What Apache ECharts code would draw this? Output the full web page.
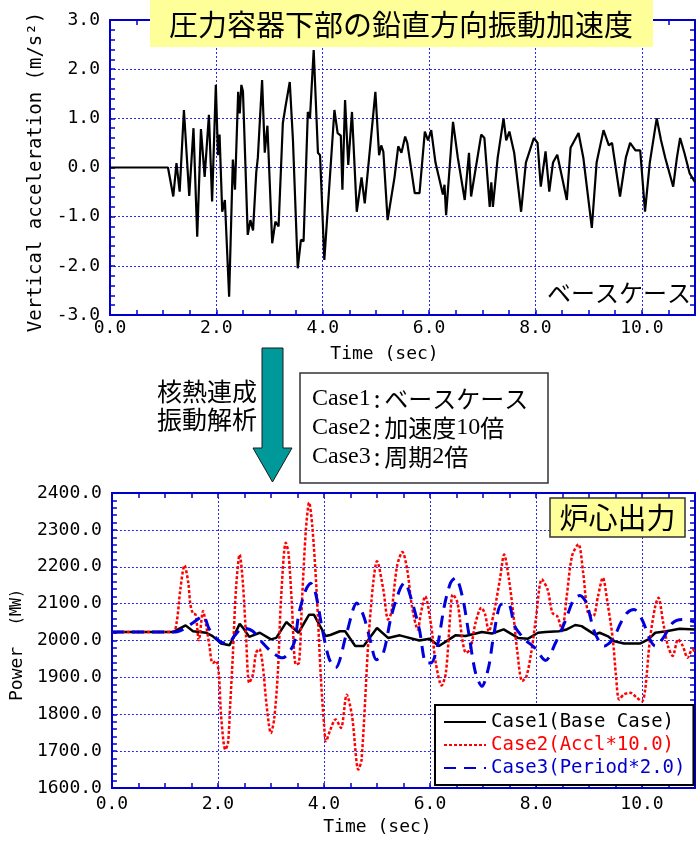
<!DOCTYPE html>
<html><head><meta charset="utf-8">
<script src="https://cdn.jsdelivr.net/npm/echarts@6/dist/echarts.min.js"></script>
<style>html,body{margin:0;padding:0;background:#fff}#c{width:698px;height:845px}</style>
</head><body><div id="c"></div>
<script>
// ---- data ----
const accTime = [0,1.09,1.19,1.25,1.31,1.39,1.49,1.57,1.64,1.71,
  1.78,1.86,1.92,1.99,2.03,2.06,2.11,2.16,2.24,2.31,
  2.35,2.41,2.44,2.47,2.50,2.59,2.64,2.69,2.75,2.78,
  2.86,2.91,2.96,3.05,3.11,3.17,3.25,3.30,3.38,3.44,
  3.53,3.59,3.64,3.72,3.76,3.83,3.91,3.95,4.03,4.22,
  4.28,4.34,4.37,4.42,4.48,4.55,4.64,4.73,4.79,4.89,
  4.99,5.06,5.10,5.14,5.22,5.35,5.42,5.48,5.55,5.59,
  5.73,5.82,5.92,5.98,6.04,6.12,6.26,6.29,6.32,6.45,
  6.54,6.67,6.75,6.79,6.98,7.04,7.14,7.17,7.20,7.29,
  7.40,7.45,7.51,7.60,7.73,7.82,7.97,8.04,8.10,8.19,
  8.26,8.33,8.41,8.50,8.59,8.66,8.81,8.90,9.06,9.15,
  9.28,9.38,9.44,9.59,9.70,9.78,9.88,9.97,10.06,10.15,10.28,
  10.36,10.44,10.59,10.66,10.72,10.80,10.90,11.00];
const accValue = [0,0,-0.59,0.09,-0.49,1.17,-0.58,0.80,-1.41,0.78,
  -0.19,1.07,-0.69,1.68,0.25,0.67,-0.90,-0.66,-2.63,0.16,
  -0.45,1.54,1.10,1.68,1.55,-1.37,-1.07,-1.28,-0.10,0.20,
  1.78,0.30,0.85,-1.54,-1.10,-1.20,0.90,1.24,1.74,0.56,
  -2.05,-1.47,-1.50,1.13,1.00,2.39,0.30,0.25,-1.88,1.17,
  0.70,0.65,-0.45,1.37,0.05,1.13,-0.90,-0.20,-0.73,0.40,
  1.54,0.25,0.45,0.32,-1.07,-0.20,0.43,0.30,0.63,0.50,
  -0.52,-0.52,0.73,0.55,0.76,0.10,-0.55,-0.35,-0.97,0.93,
  0.20,-0.66,0.30,-0.59,0.67,0.60,-0.80,-0.30,-0.80,0.20,
  1.00,0.55,0.73,0.30,-0.90,0.10,0.60,0.50,-0.39,0.33,
  -0.49,0.10,0.26,-0.20,-0.66,0.40,0.70,0.20,-1.23,0.10,
  0.76,0.45,0.50,-0.59,0.20,0.50,0.35,0.35,-0.90,0.10,1.00,
  0.56,0.20,-0.39,0.20,0.60,0.30,-0.12,-0.30];

const case1Time = [0,1.15,1.39,1.53,1.78,1.90,2.06,2.22,2.41,2.47,
  2.59,2.79,3.00,3.10,3.29,3.52,3.72,3.81,4.03,4.12,
  4.30,4.40,4.59,4.75,5.00,5.21,5.43,5.80,5.99,6.17,
  6.48,6.67,6.98,7.17,7.39,7.66,7.85,8.04,8.18,8.43,
  8.58,8.74,8.86,9.11,9.20,9.35,9.48,9.66,9.97,10.12,
  10.25,10.46,10.71,11.00];
const case1Power = [2023,2023,2041,2025,2021,2012,1992,1987,2045,2035,
  2010,2021,2003,2007,2050,2021,2070,2070,2012,2015,
  2025,2025,1985,1985,2034,2007,2014,2000,2005,1985,
  2014,2012,2023,2019,2030,2007,2005,2021,2023,2025,
  2030,2042,2039,2016,2021,2012,1998,1992,1992,2003,
  2021,2025,2032,2030];

const case2Time = [0,1.15,1.22,1.29,1.37,1.44,1.48,1.53,1.58,1.64,
  1.72,1.77,1.84,1.90,1.97,2.02,2.06,2.14,2.19,2.23,
  2.28,2.34,2.41,2.47,2.53,2.59,2.66,2.72,2.78,2.84,
  2.92,3.00,3.06,3.13,3.19,3.28,3.33,3.39,3.47,3.53,
  3.59,3.66,3.72,3.78,3.86,3.94,4.00,4.04,4.12,4.22,
  4.32,4.43,4.53,4.65,4.71,4.84,4.93,5.00,5.12,5.21,
  5.27,5.38,5.48,5.57,5.66,5.77,5.83,5.91,6.02,6.11,
  6.22,6.30,6.39,6.43,6.52,6.61,6.68,6.76,6.86,6.97,
  7.04,7.11,7.20,7.32,7.40,7.49,7.57,7.65,7.74,7.82,
  7.91,8.00,8.11,8.22,8.31,8.40,8.49,8.58,8.68,8.80,
  8.89,8.98,9.08,9.17,9.26,9.35,9.45,9.51,9.57,9.66,
  9.78,9.91,10.00,10.06,10.15,10.25,10.31,10.40,10.49,10.58,
  10.68,10.77,10.86,10.95,11.00];
const case2Power = [2023,2023,2048,2138,2204,2157,2098,2073,2070,2001,
  2080,2048,1985,1939,1944,1903,1795,1704,1722,1822,
  1957,2138,2233,2157,2012,1885,1908,1967,1977,1939,
  1822,1749,1786,1912,2111,2265,2238,2111,1935,1939,
  2120,2301,2374,2310,2138,1903,1776,1727,1758,1786,
  1763,1853,1795,1650,1677,2003,2157,2215,2138,2057,
  2075,2202,2240,2193,2093,2030,2075,2120,2043,1939,
  1878,1912,2084,2125,2102,2003,1967,1976,2048,2089,
  2071,2025,2071,2166,2233,2166,2075,1967,1890,1903,
  1967,2060,2166,2138,2075,2066,2030,2120,2229,2261,
  2184,2075,2066,2120,2170,2102,2003,1903,1840,1854,
  1858,1844,1835,1867,2003,2093,2116,2048,1985,1958,
  2003,1985,1953,1976,1970];

const case3Time = [0,1.20,1.34,1.53,1.72,1.84,2.03,2.19,2.31,2.47,
  2.66,2.84,3.03,3.22,3.31,3.44,3.53,3.66,3.75,3.84,
  3.97,4.10,4.22,4.43,4.62,4.75,4.87,4.99,5.12,5.27,
  5.43,5.52,5.65,5.80,5.93,6.02,6.14,6.27,6.39,6.48,
  6.61,6.73,6.86,6.98,7.11,7.20,7.35,7.48,7.60,7.79,
  7.98,8.18,8.37,8.55,8.71,8.83,8.95,9.11,9.29,9.45,
  9.60,9.72,9.85,10.00,10.15,10.25,10.40,10.58,10.77,10.95,11.00];
const case3Power = [2023,2023,2030,2048,2066,2030,1998,1992,2012,2034,
  2025,1994,1967,1953,1962,1994,2075,2138,2155,2129,
  2030,1950,1926,2021,2102,2066,2003,1948,1966,2066,
  2138,2157,2111,2030,1939,1939,1985,2093,2157,2170,
  2120,2021,1912,1876,1930,2012,2098,2098,2039,2003,
  1980,1946,1994,2052,2111,2122,2102,2021,1985,2003,
  2048,2075,2084,2057,2003,1985,2007,2048,2057,2052,2050];

const xLabelValues = [0, 2, 4, 6, 8, 10];
const seriesNames = ['Case1(Base Case)', 'Case2(Accl*10.0)', 'Case3(Period*2.0)'];

// ---- styling ----
const MONO = "DejaVu Sans Mono";
const JP = "Noto Sans CJK JP";
const SERIF = "Liberation Serif";
const AXIS = '#0000cc';
const GRIDC = '#2a2ae6';

const zip = (a, b) => a.map((v, i) => [v, b[i]]);

function makeX(gridIndex, namePad, labelMargin) {
  const base = { type: 'value', gridIndex, min: 0, max: 11 };
  return [
    Object.assign({}, base, {
      interval: 0.5, position: 'bottom',
      axisLine: { show: true, onZero: false, lineStyle: { color: AXIS, width: 2 } },
      axisTick: { show: true, inside: true, length: 5, lineStyle: { color: AXIS, width: 1.5 } },
      axisLabel: { margin: labelMargin, color: '#000', fontFamily: MONO, fontSize: 18,
        formatter: v => xLabelValues.indexOf(Math.round(v * 100) / 100) >= 0 ? v.toFixed(1) : '' },
      splitLine: { show: false },
      name: 'Time (sec)', nameLocation: 'middle', nameGap: 30,
      nameTextStyle: { color: '#000', fontFamily: MONO, fontSize: 18, padding: namePad }
    }),
    Object.assign({}, base, {
      interval: 0.5, position: 'top',
      axisLine: { show: true, onZero: false, lineStyle: { color: AXIS, width: 2 } },
      axisTick: { show: true, inside: true, length: 5, lineStyle: { color: AXIS, width: 1.5 } },
      axisLabel: { show: false }, splitLine: { show: false }
    }),
    Object.assign({}, base, {
      interval: 2, position: 'bottom',
      axisLine: { show: false, onZero: false }, axisTick: { show: false }, axisLabel: { show: false },
      splitLine: { show: true, lineStyle: { color: GRIDC, type: [2, 2], width: 1 } }
    })
  ];
}

function makeY(gridIndex, min, max, interval, name, nameGap, nameStyle) {
  const base = { type: 'value', gridIndex, min, max, interval };
  const tick = { show: true, inside: true, length: 5, lineStyle: { color: AXIS, width: 1.5 } };
  const minor = { show: true, splitNumber: 5, length: 5, lineStyle: { color: AXIS, width: 1.5 } };
  return [
    Object.assign({}, base, {
      position: 'left',
      axisLine: { show: true, onZero: false, lineStyle: { color: AXIS, width: 2 } },
      axisTick: tick, minorTick: minor,
      axisLabel: { margin: 10, color: '#000', fontFamily: MONO, fontSize: 18, formatter: v => v.toFixed(1) },
      splitLine: { show: true, lineStyle: { color: GRIDC, type: [2, 2], width: 1 } },
      name, nameLocation: 'middle', nameRotate: 90, nameGap,
      nameTextStyle: nameStyle
    }),
    Object.assign({}, base, {
      position: 'right',
      axisLine: { show: true, onZero: false, lineStyle: { color: AXIS, width: 2 } },
      axisTick: tick, minorTick: minor,
      axisLabel: { show: false }, splitLine: { show: false }
    })
  ];
}

const xAxes = makeX(0, [0, 36, 0, 0], 4).concat(makeX(1, [0, 52, 0, 0], 7));
const yAxes = makeY(0, -3, 3, 1, 'Vertical acceleration (m/s²)', 54,
    { color: '#000', fontFamily: MONO, fontSize: 19, padding: [0, 9, 0, 0] })
  .concat(makeY(1, 1600, 2400, 100, 'Power  {s|(MW)}', 81,
    { color: '#000', fontFamily: MONO, fontSize: 18, padding: [0, 9, 0, 0],
      rich: { s: { fontFamily: MONO, fontSize: 15, color: '#000' } } }));

const rowRich = {
  a: { fontFamily: SERIF, fontSize: 24, fill: '#000' },
  c: { fontFamily: JP, fontSize: 24, fill: '#000', padding: [0, 4, 0, 3] },
  b: { fontFamily: JP, fontSize: 24, fill: '#000' }
};

const option = {
  animation: false,
  backgroundColor: '#fff',
  grid: [
    { left: 110, top: 20, width: 587, height: 295 },
    { left: 110, top: 493, width: 587, height: 295 }
  ],
  xAxis: xAxes,
  yAxis: yAxes,
  legend: {
    orient: 'vertical', left: 435, top: 705, padding: [7, 8, 7, 8], itemGap: 3,
    itemWidth: 42, itemHeight: 14, borderColor: '#000', borderWidth: 2, backgroundColor: '#fff',
    selectedMode: false, z: 20,
    itemStyle: { opacity: 0 },
    textStyle: { fontFamily: MONO, fontSize: 19, lineHeight: 20 },
    data: [
      { name: seriesNames[0], textStyle: { color: '#000' } },
      { name: seriesNames[1], textStyle: { color: '#ff0000' } },
      { name: seriesNames[2], textStyle: { color: '#0000cc' } }
    ]
  },
  series: [
    { type: 'line', name: 'acc', xAxisIndex: 0, yAxisIndex: 0, data: zip(accTime, accValue),
      symbol: 'none', lineStyle: { color: '#000', width: 2.2 }, itemStyle: { color: '#000' } },
    { type: 'line', name: seriesNames[0], xAxisIndex: 3, yAxisIndex: 2, data: zip(case1Time, case1Power),
      symbol: 'none', lineStyle: { color: '#000', width: 2.5 }, itemStyle: { color: '#000' } },
    { type: 'line', name: seriesNames[1], xAxisIndex: 3, yAxisIndex: 2, data: zip(case2Time, case2Power),
      symbol: 'none', smooth: 0.3, lineStyle: { color: '#ff0000', width: 2.5, type: [3, 2] }, itemStyle: { color: '#ff0000' } },
    { type: 'line', name: seriesNames[2], xAxisIndex: 3, yAxisIndex: 2, data: zip(case3Time, case3Power),
      symbol: 'none', smooth: 0.3, lineStyle: { color: '#0000dd', width: 3, type: [12, 8] }, itemStyle: { color: '#0000dd' } }
  ],
  graphic: [
    { type: 'rect', z: 100, shape: { x: 150, y: 0, width: 503, height: 47 }, style: { fill: '#ffff99' } },
    { type: 'text', z: 101, x: 401, y: 25, style: { text: '圧力容器下部の鉛直方向振動加速度', font: `29px "${JP}"`, fill: '#000', textAlign: 'center', textVerticalAlign: 'middle', align: 'center', verticalAlign: 'middle' } },
    { type: 'text', z: 101, x: 619, y: 293, style: { text: 'ベースケース', font: `24px "${JP}"`, fill: '#000', textAlign: 'center', textVerticalAlign: 'middle', align: 'center', verticalAlign: 'middle' } },
    { type: 'polygon', z: 100, shape: { points: [[262, 348], [283, 348], [283, 448], [292, 448], [272.5, 482], [253, 448], [262, 448]] },
      style: { fill: '#009999', stroke: '#1a1a1a', lineWidth: 1 } },
    { type: 'text', z: 101, x: 207, y: 391, style: { text: '核熱連成', font: `25px "${JP}"`, fill: '#000', textAlign: 'center', textVerticalAlign: 'middle', align: 'center', verticalAlign: 'middle' } },
    { type: 'text', z: 101, x: 207, y: 419, style: { text: '振動解析', font: `25px "${JP}"`, fill: '#000', textAlign: 'center', textVerticalAlign: 'middle', align: 'center', verticalAlign: 'middle' } },
    { type: 'rect', z: 100, shape: { x: 300, y: 373, width: 248, height: 110 }, style: { fill: '#fff', stroke: '#333', lineWidth: 1.5 } },
    { type: 'text', z: 101, x: 312, y: 399, style: { text: '{a|Case1}{c|:}{b|ベースケース}', rich: rowRich, fill: '#000', textAlign: 'left', textVerticalAlign: 'middle', align: 'left', verticalAlign: 'middle' } },
    { type: 'text', z: 101, x: 312, y: 428, style: { text: '{a|Case2}{c|:}{b|加速度}{a|10}{b|倍}', rich: rowRich, fill: '#000', textAlign: 'left', textVerticalAlign: 'middle', align: 'left', verticalAlign: 'middle' } },
    { type: 'text', z: 101, x: 312, y: 457, style: { text: '{a|Case3}{c|:}{b|周期}{a|2}{b|倍}', rich: rowRich, fill: '#000', textAlign: 'left', textVerticalAlign: 'middle', align: 'left', verticalAlign: 'middle' } },
    { type: 'rect', z: 100, shape: { x: 550, y: 498, width: 135, height: 39 }, style: { fill: '#ffff99', stroke: '#333', lineWidth: 1.5 } },
    { type: 'text', z: 101, x: 617.5, y: 518, style: { text: '炉心出力', font: `29px "${JP}"`, fill: '#000', textAlign: 'center', textVerticalAlign: 'middle', align: 'center', verticalAlign: 'middle' } }
  ]
};

const chart = echarts.init(document.getElementById('c'), null, { renderer: 'canvas' });
chart.setOption(option);
</script>
</body></html>
